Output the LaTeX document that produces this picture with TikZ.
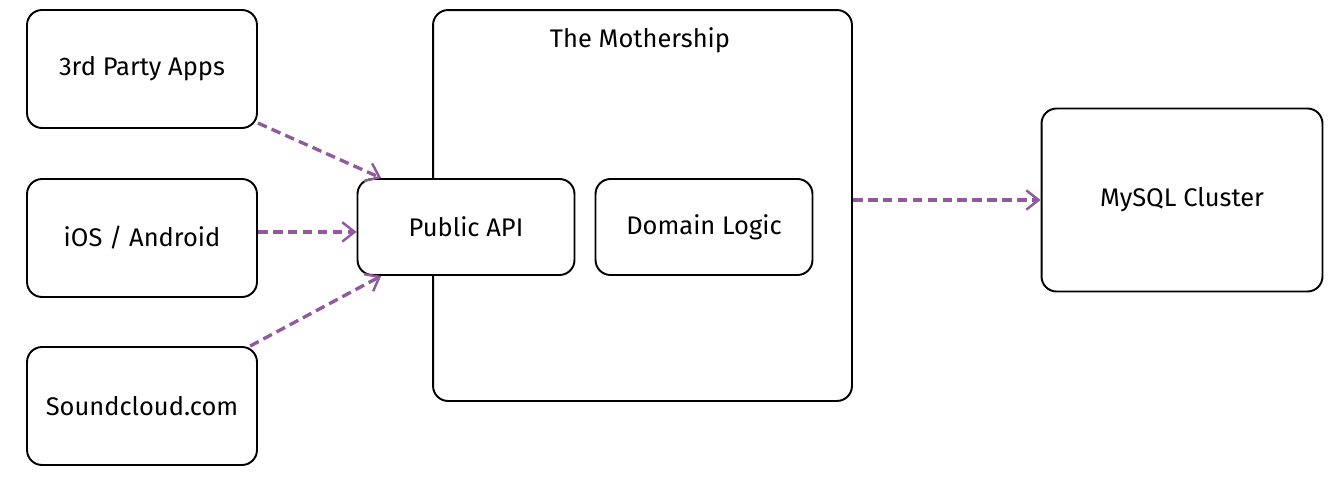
\documentclass[tikz,border=0pt]{standalone}
\usepackage{fontspec}
\setmainfont{Fira Sans}
\usetikzlibrary{arrows.meta}
\definecolor{flow}{HTML}{915A9C}

\begin{document}
\begin{tikzpicture}[x=0.02cm, y=-0.02cm,
    box/.style={draw, line width=1.1pt, rounded corners=0.3cm, fill=white,
                font=\fontsize{14.5}{17}\selectfont},
    link/.style={draw=flow, line width=1.9pt, dash pattern=on 5.5pt off 3pt,
                 -{Straight Barb[length=7pt, width=11pt, line width=1.4pt]}}]
    \useasboundingbox (0,0) rectangle (1342,490);

    % Clients
    \node[box, minimum width=4.6cm, minimum height=2.36cm] (apps) at (142,69) {3rd Party Apps};
    \node[box, minimum width=4.6cm, minimum height=2.36cm] (mobile) at (142,238) {iOS / Android};
    \node[box, minimum width=4.6cm, minimum height=2.36cm] (web) at (142,406) {Soundcloud.com};

    % Mothership
    \node[box, minimum width=8.38cm, minimum height=7.82cm] (ship) at (642.5,205.5) {};
    \node[font=\fontsize{14.5}{17}\selectfont] (title) at (640,40) {The Mothership};
    \node[box, minimum width=4.34cm, minimum height=1.92cm] (api) at (466,227) {Public API};
    \node[box, minimum width=4.34cm, minimum height=1.92cm] (logic) at (704,227) {Domain Logic};

    % Storage
    \node[box, minimum width=5.62cm, minimum height=3.66cm] (db) at (1182,200) {MySQL Cluster};

    % Links
    \draw[link] (apps.-25) -- (api.150);
    \draw[link] (mobile.3) -- (mobile.3 -| api.west);
    \draw[link] (web.29) -- (api.-150);
    \draw[link] (ship.east |- db.west) -- (db.west);
\end{tikzpicture}
\end{document}
